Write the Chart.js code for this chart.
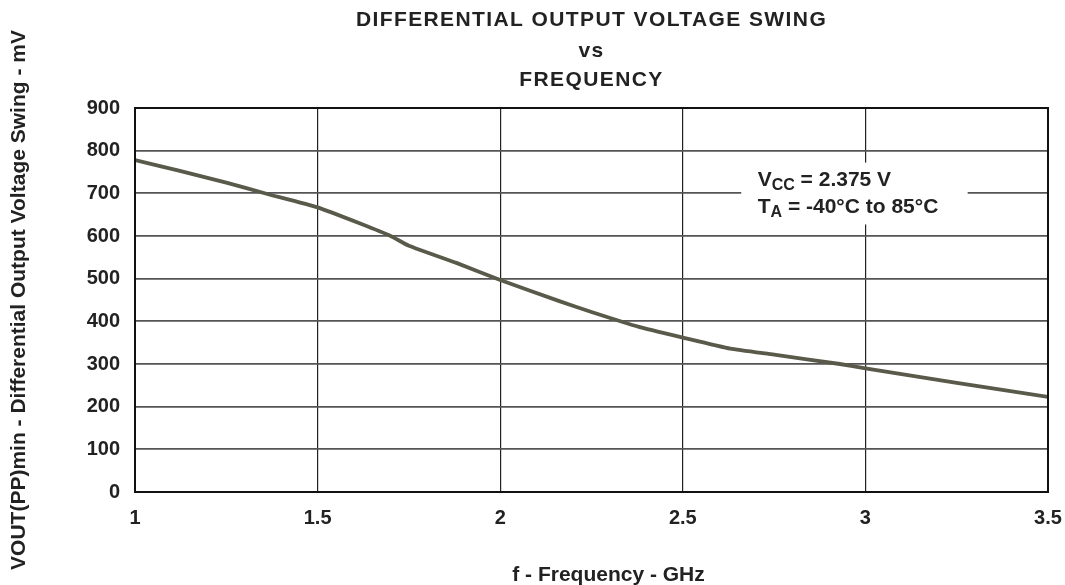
<!DOCTYPE html>
<html>
<head>
<meta charset="utf-8">
<script src="https://cdn.jsdelivr.net/npm/chart.js@4/dist/chart.umd.min.js"></script>
<style>
  html, body { margin: 0; padding: 0; background: #fff; }
  #wrap { width: 1065px; height: 585px; }
</style>
</head>
<body>
<div id="wrap"><canvas id="myChart" width="1065" height="585"></canvas></div>
<script>
// data
const freqGHz = [1.0, 1.12, 1.25, 1.36, 1.5, 1.62, 1.70, 1.75, 1.88, 2.0, 2.16, 2.25, 2.38, 2.5, 2.63, 2.75, 2.93, 3.0, 3.25, 3.5];
const swingMv = [778, 753, 725, 699, 667, 628, 600, 577, 537, 497, 448, 422, 387, 362, 336, 322, 300, 290, 256, 223];
const xTicks = [1, 1.5, 2, 2.5, 3, 3.5];
const yTicks = [0, 100, 200, 300, 400, 500, 600, 700, 800, 900];
const titleLines = ['DIFFERENTIAL OUTPUT VOLTAGE SWING', 'vs', 'FREQUENCY'];
const xTitle = 'f - Frequency - GHz';

const FONT = '"Liberation Sans", Arial, Helvetica, sans-serif';
const ink = '#222';

const points = freqGHz.map((f, i) => ({ x: f, y: swingMv[i] }));

// frame, titles and the conditions box
const extras = {
  id: 'extras',
  beforeDatasetsDraw(chart) {
    const { ctx, scales } = chart;
    // white box behind the conditions text (covers the grid)
    const x0 = scales.x.getPixelForValue(2.66), x1 = scales.x.getPixelForValue(3.28);
    const y0 = scales.y.getPixelForValue(772), y1 = scales.y.getPixelForValue(627);
    ctx.save();
    ctx.fillStyle = '#fff';
    ctx.fillRect(x0, y0, x1 - x0, y1 - y0);
    ctx.restore();
  },
  afterDraw(chart) {
    const { ctx, chartArea: a, scales } = chart;
    ctx.save();
    ctx.strokeStyle = '#111';
    ctx.lineWidth = 2;
    ctx.strokeRect(a.left, a.top, a.right - a.left, a.bottom - a.top);

    ctx.fillStyle = ink;
    ctx.textAlign = 'center';
    ctx.textBaseline = 'alphabetic';
    ctx.font = 'bold 21px ' + FONT;
    ctx.letterSpacing = '1.4px';
    const cx = (a.left + a.right) / 2;
    ctx.fillText(titleLines[0], cx, 26);
    ctx.fillText(titleLines[1], cx, 57);
    ctx.fillText(titleLines[2], cx, 86);
    ctx.letterSpacing = '0px';

    // x axis title, sits a little right of the plot centre
    ctx.font = 'bold 21px ' + FONT;
    ctx.fillText(xTitle, cx + 17, 581);

    // conditions text with subscripts
    const tx = scales.x.getPixelForValue(2.705);
    const drawSub = (main, sub, rest, y) => {
      ctx.textAlign = 'left';
      let x = tx;
      ctx.font = 'bold 21px ' + FONT;
      ctx.fillText(main, x, y);
      x += ctx.measureText(main).width;
      ctx.font = 'bold 16px ' + FONT;
      ctx.fillText(sub, x, y + 4);
      x += ctx.measureText(sub).width;
      ctx.font = 'bold 21px ' + FONT;
      ctx.fillText(rest, x, y);
    };
    drawSub('V', 'CC', ' = 2.375 V', 186);
    drawSub('T', 'A', ' = -40\u00B0C to 85\u00B0C', 213);
    ctx.restore();
  }
};

new Chart(document.getElementById('myChart'), {
  type: 'line',
  data: {
    datasets: [{
      label: 'VOUT(PP)min',
      data: points,
      borderColor: '#5a5a4b',
      borderWidth: 3.8,
      pointRadius: 0,
      tension: 0.15,
      fill: false
    }]
  },
  options: {
    responsive: false,
    animation: false,
    layout: { padding: { top: 108, right: 17, left: 0, bottom: 0 } },
    plugins: {
      legend: { display: false },
      tooltip: { enabled: false }
    },
    scales: {
      x: {
        type: 'linear',
        min: 1,
        max: 3.5,
        afterFit(scale) { scale.height = 93; scale.paddingRight = 0; scale.paddingLeft = 0; },
        afterBuildTicks(scale) { scale.ticks = xTicks.map(v => ({ value: v })); },
        grid: { color: '#222', lineWidth: 1.2, drawTicks: false },
        border: { display: false },
        ticks: {
          padding: 14,
          color: ink,
          font: { family: FONT, size: 20, weight: 'bold' },
          callback: v => String(v)
        }
      },
      y: {
        min: 0,
        max: 900,
        afterFit(scale) { scale.width = 135; },
        afterBuildTicks(scale) { scale.ticks = yTicks.map(v => ({ value: v })); },
        grid: { color: '#555', lineWidth: 1.8, drawTicks: false },
        border: { display: false },
        ticks: {
          padding: 15,
          color: ink,
          font: { family: FONT, size: 20, weight: 'bold' }
        },
        title: {
          display: true,
          text: 'VOUT(PP)min - Differential Output Voltage Swing - mV',
          color: ink,
          font: { family: FONT, size: 21, weight: 'bold' },
          padding: { top: 7, bottom: 0 }
        }
      }
    }
  },
  plugins: [extras]
});
</script>
</body>
</html>
